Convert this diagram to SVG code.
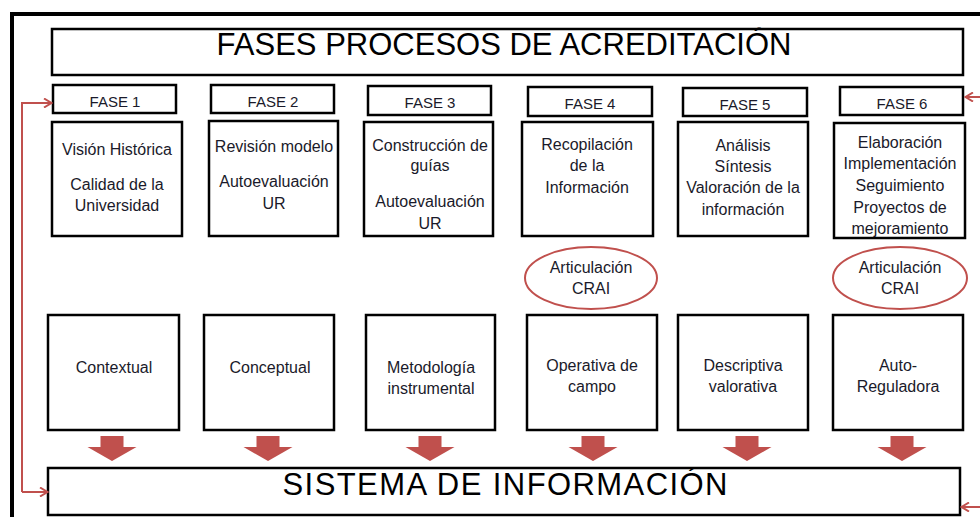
<svg xmlns="http://www.w3.org/2000/svg" width="980" height="517" viewBox="0 0 980 517">
<defs>
<style>
.box{fill:#fff;stroke:#000;stroke-width:2.5}
.t{font-family:"Liberation Sans",Arial,sans-serif;font-size:16px;fill:#1a1a2a;text-anchor:middle}
.f{font-family:"Liberation Sans",Arial,sans-serif;font-size:15px;fill:#1a1a2a;text-anchor:middle}
.big{font-family:"Liberation Sans",Arial,sans-serif;font-size:31px;fill:#000;text-anchor:middle}
.ell{fill:#fff;stroke:#C0504D;stroke-width:2}
.conn{fill:none;stroke:#C0504D;stroke-width:2}
.blk{fill:#C0504D}
</style>
<marker id="ah" markerWidth="10" markerHeight="10" refX="8" refY="5" orient="auto" markerUnits="userSpaceOnUse">
<path d="M1,0.5 L8.5,5 L1,9.5" fill="none" stroke="#C0504D" stroke-width="2"/>
</marker>
<path id="down" d="M-11.5,0 H11.5 V11 H24.5 L0,25 L-24.5,11 H-11.5 Z"/>
</defs>
<rect width="980" height="517" fill="#fff"/>
<g id="frame">
<path d="M12,517 V14 H980" fill="none" stroke="#000" stroke-width="4"/>
</g>
<g id="title">
<rect class="box" x="52" y="29" width="911" height="46"/>
<text class="big" x="504" y="55">FASES PROCESOS DE ACREDITACIÓN</text>
</g>
<g id="fase1"><rect class="box" x="53" y="85" width="123" height="28"/><text class="f" x="115" y="107">FASE 1</text></g>
<g id="fase2"><rect class="box" x="211" y="85" width="123" height="28"/><text class="f" x="273" y="107">FASE 2</text></g>
<g id="fase3"><rect class="box" x="368" y="86" width="123" height="29"/><text class="f" x="430" y="108">FASE 3</text></g>
<g id="fase4"><rect class="box" x="528" y="87" width="124" height="29"/><text class="f" x="590" y="109">FASE 4</text></g>
<g id="fase5"><rect class="box" x="683" y="88" width="124" height="28"/><text class="f" x="745" y="110">FASE 5</text></g>
<g id="fase6"><rect class="box" x="840" y="87" width="123" height="28"/><text class="f" x="902" y="109">FASE 6</text></g>
<g id="box1"><rect class="box" x="52" y="122" width="130" height="114"/>
<text class="t" x="117" y="155">Visión Histórica</text><text class="t" x="117" y="190">Calidad de la</text><text class="t" x="117" y="211">Universidad</text></g>
<g id="box2"><rect class="box" x="209" y="121" width="129" height="115"/>
<text class="t" x="274" y="152">Revisión modelo</text><text class="t" x="274" y="187">Autoevaluación</text><text class="t" x="274" y="209">UR</text></g>
<g id="box3"><rect class="box" x="364" y="122" width="129" height="114"/>
<text class="t" x="430" y="151">Construcción de</text><text class="t" x="430" y="171">guías</text><text class="t" x="430" y="207">Autoevaluación</text><text class="t" x="430" y="229">UR</text></g>
<g id="box4"><rect class="box" x="522" y="122" width="131" height="114"/>
<text class="t" x="587" y="150">Recopilación</text><text class="t" x="587" y="171">de la</text><text class="t" x="587" y="193">Información</text></g>
<g id="box5"><rect class="box" x="678" y="122" width="130" height="114"/>
<text class="t" x="743" y="151">Análisis</text><text class="t" x="743" y="172">Síntesis</text><text class="t" x="743" y="193">Valoración de la</text><text class="t" x="743" y="215">información</text></g>
<g id="box6"><rect class="box" x="834" y="123" width="131" height="115"/>
<text class="t" x="900" y="148">Elaboración</text><text class="t" x="900" y="169">Implementación</text><text class="t" x="900" y="191">Seguimiento</text><text class="t" x="900" y="213">Proyectos de</text><text class="t" x="900" y="234">mejoramiento</text></g>
<g id="crai1"><ellipse class="ell" cx="591" cy="278" rx="66" ry="31"/>
<text class="t" x="591" y="273">Articulación</text><text class="t" x="591" y="294">CRAI</text></g>
<g id="crai2"><ellipse class="ell" cx="900" cy="278" rx="67" ry="31"/>
<text class="t" x="900" y="273">Articulación</text><text class="t" x="900" y="294">CRAI</text></g>
<g id="low1"><rect class="box" x="48" y="315" width="131" height="115"/><text class="t" x="114" y="373">Contextual</text></g>
<g id="low2"><rect class="box" x="204" y="315" width="130" height="115"/><text class="t" x="270" y="373">Conceptual</text></g>
<g id="low3"><rect class="box" x="366" y="315" width="129" height="115"/><text class="t" x="431" y="373">Metodología</text><text class="t" x="431" y="394">instrumental</text></g>
<g id="low4"><rect class="box" x="527" y="315" width="130" height="115"/><text class="t" x="592" y="371">Operativa de</text><text class="t" x="592" y="392">campo</text></g>
<g id="low5"><rect class="box" x="678" y="315" width="130" height="115"/><text class="t" x="743" y="371">Descriptiva</text><text class="t" x="743" y="392">valorativa</text></g>
<g id="low6"><rect class="box" x="833" y="315" width="130" height="115"/><text class="t" x="898" y="371">Auto-</text><text class="t" x="898" y="392">Reguladora</text></g>
<g id="sistema"><rect class="box" x="48" y="468" width="912" height="47"/>
<text class="big" x="505" y="495" textLength="445" lengthAdjust="spacing">SISTEMA DE INFORMACIÓN</text></g>
<g id="connectors">
<use href="#down" class="blk" x="112" y="436"/>
<use href="#down" class="blk" x="268" y="436"/>
<use href="#down" class="blk" x="430" y="436"/>
<use href="#down" class="blk" x="593" y="436"/>
<use href="#down" class="blk" x="747" y="436"/>
<use href="#down" class="blk" x="902" y="436"/>
<path class="conn" d="M22,492 V103 H51" marker-end="url(#ah)"/>
<path class="conn" d="M22,492 H47" marker-end="url(#ah)"/>
<path class="conn" d="M980,97 H966" marker-end="url(#ah)"/>
<path class="conn" d="M980,507 H962" marker-end="url(#ah)"/>
</g>
</svg>
